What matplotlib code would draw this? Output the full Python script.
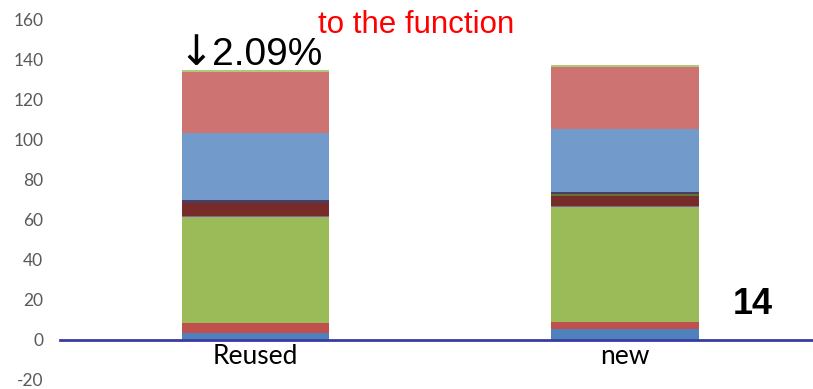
import matplotlib
matplotlib.use("Agg")
import matplotlib.pyplot as plt
import numpy as np

# Categories and stacked series (bottom to top)
categories = ["Reused", "new"]
series_colors = [
    "#4f81bd", "#c0504d", "#9bbb59", "#8064a2",
    "#772c2a", "#5f7530", "#4d3b62",
    "#729aca", "#cd7371", "#afc97a",
]
s01 = [3.35, 5.35]
s02 = [5.0, 3.8]
s03 = [53.3, 57.2]
s04 = [0.5, 0.6]
s05 = [6.2, 5.05]
s06 = [0.3, 1.0]
s07 = [1.3, 1.0]
s08 = [33.35, 31.35]
s09 = [30.3, 31.0]
s10 = [1.0, 1.0]
series = [s01, s02, s03, s04, s05, s06, s07, s08, s09, s10]

ytick_values = [-20, 0, 20, 40, 60, 80, 100, 120, 140, 160]
change_arrow = "\u2193"
change_value = "2.09%"
note_label = "to the function"
count_label = "14"

W, H = 813, 389
fig = plt.figure(figsize=(W / 100, H / 100), dpi=100)
ax = fig.add_axes([60 / W, 9 / H, (W - 60) / W, (380 - 19.6) / H])

# category axis crosses at zero
for side in ["top", "right", "left"]:
    ax.spines[side].set_visible(False)
ax.spines["bottom"].set_position(("data", 0))
ax.spines["bottom"].set_color("#3a3aa4")
ax.spines["bottom"].set_linewidth(2)
ax.spines["bottom"].set_zorder(5)

x = np.arange(len(categories))
bottom = np.zeros(len(categories))
for vals, col in zip(series, series_colors):
    v = np.array(vals)
    ax.bar(x, v, width=0.4, bottom=bottom, color=col, linewidth=0)
    bottom += v

ax.set_xlim(-0.529, 1.509)
ax.set_ylim(-20, 160)
ax.set_yticks(ytick_values)
ax.set_yticklabels([str(v) for v in ytick_values], family="Lato",
                   fontsize=12.5, color="#595959")
ax.tick_params(axis="y", length=0, pad=12)

ax.set_xticks(x)
ax.set_xticklabels(categories, family="Lato", fontsize=19, color="#000000")
ax.tick_params(axis="x", length=0, pad=3)

ax.text(-0.115, 137.5, change_arrow, ha="right", va="baseline", fontsize=30,
        family="DejaVu Sans", color="black", clip_on=False)
ax.text(-0.118, 137.5, change_value, ha="left", va="baseline", fontsize=28,
        family="Liberation Sans", color="black", clip_on=False)
ax.text(0.434, 153.5, note_label, ha="center", va="baseline", fontsize=22.5,
        family="Liberation Sans", color="#ff0000", clip_on=False)
ax.text(1.346, 13, count_label, ha="center", va="baseline", fontsize=26,
        family="Liberation Sans", fontweight="bold", color="black", clip_on=False)

fig.savefig("out.png", dpi=100, facecolor="white")
